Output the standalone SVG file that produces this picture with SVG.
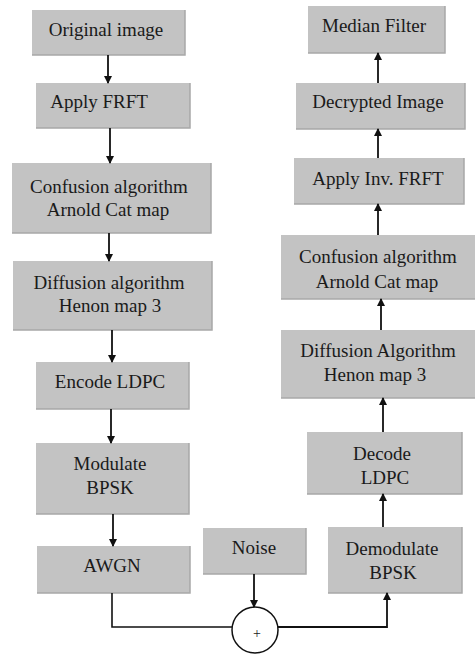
<svg xmlns="http://www.w3.org/2000/svg" width="475" height="655" viewBox="0 0 475 655" font-family="'Liberation Serif', 'DejaVu Serif', 'Times New Roman', serif">
<style>
.box{fill:#c3c3c3;stroke:none}
.sh{fill:none;stroke:#a8a8a8;stroke-width:1.5}
text{font-family:'Liberation Serif','DejaVu Serif','Times New Roman',serif;font-size:19px;fill:#1a1a1a;text-anchor:middle}
.ln{fill:none;stroke:#111;stroke-width:1.6}
.ar{fill:none;stroke:#111;stroke-width:1.8;marker-end:url(#ah)}
</style>
<defs>
<marker id="ah" markerWidth="8" markerHeight="8" refX="7" refY="4" orient="auto" markerUnits="userSpaceOnUse">
<path d="M0,0 L8,4 L0,8 Z" fill="#111"/>
</marker>
</defs>
<rect width="475" height="655" fill="#fff"/>
<g id="n-original"><rect class="box" x="32" y="10" width="153" height="45"/><path class="sh" d="M185,10 V55 H32"/><text x="106" y="36">Original image</text></g>
<g id="n-frft"><rect class="box" x="36" y="83" width="154" height="45"/><path class="sh" d="M190,83 V128 H36"/><text x="99" y="108">Apply FRFT</text></g>
<g id="n-confusion"><rect class="box" x="12" y="163" width="199" height="70"/><path class="sh" d="M211,163 V233 H12"/><text x="109" y="193">Confusion algorithm</text><text x="108" y="216">Arnold Cat map</text></g>
<g id="n-diffusion"><rect class="box" x="13" y="261" width="199" height="69"/><path class="sh" d="M212,261 V330 H13"/><text x="109" y="289">Diffusion algorithm</text><text x="110" y="312">Henon map 3</text></g>
<g id="n-encode"><rect class="box" x="36" y="362" width="153" height="47"/><path class="sh" d="M189,362 V409 H36"/><text x="110" y="388">Encode LDPC</text></g>
<g id="n-modulate"><rect class="box" x="36" y="443" width="153" height="71"/><path class="sh" d="M189,443 V514 H36"/><text x="110" y="470">Modulate</text><text x="110" y="494">BPSK</text></g>
<g id="n-awgn"><rect class="box" x="37" y="546" width="153" height="47"/><path class="sh" d="M190,546 V593 H37"/><text x="112" y="572">AWGN</text></g>
<g id="n-noise"><rect class="box" x="203" y="528" width="103" height="46"/><path class="sh" d="M306,528 V574 H203"/><text x="254" y="554">Noise</text></g>
<g id="n-demodulate"><rect class="box" x="328" y="527" width="134" height="66"/><path class="sh" d="M462,527 V593 H328"/><text x="392" y="555">Demodulate</text><text x="393" y="579">BPSK</text></g>
<g id="n-decode"><rect class="box" x="307" y="432" width="155" height="62"/><path class="sh" d="M462,432 V494 H307"/><text x="382" y="460">Decode</text><text x="385" y="484">LDPC</text></g>
<g id="n-rdiffusion"><rect class="box" x="281" y="330" width="194" height="68"/><path class="sh" d="M281,398 H475"/><text x="378" y="357">Diffusion Algorithm</text><text x="375" y="381">Henon map 3</text></g>
<g id="n-rconfusion"><rect class="box" x="281" y="235" width="194" height="64"/><path class="sh" d="M281,299 H475"/><text x="378" y="263">Confusion algorithm</text><text x="377" y="288">Arnold Cat map</text></g>
<g id="n-invfrft"><rect class="box" x="294" y="158" width="170" height="46"/><path class="sh" d="M464,158 V204 H294"/><text x="378" y="185">Apply Inv. FRFT</text></g>
<g id="n-decrypted"><rect class="box" x="296" y="83" width="169" height="46"/><path class="sh" d="M465,83 V129 H296"/><text x="378" y="108">Decrypted Image</text></g>
<g id="n-median"><rect class="box" x="308" y="6" width="137" height="47"/><path class="sh" d="M445,6 V53 H308"/><text x="374" y="32">Median Filter</text></g>
<g id="n-sum"><circle cx="255" cy="630" r="23" fill="#fff" stroke="#111" stroke-width="1.5"/><text x="257" y="638" style="font-size:14px">+</text></g>
<g id="connectors">
<path class="ar" d="M108,55 V83"/>
<path class="ar" d="M110,128 V163"/>
<path class="ar" d="M109,233 V261"/>
<path class="ar" d="M112,330 V362"/>
<path class="ar" d="M111,409 V443"/>
<path class="ar" d="M113,514 V546"/>
<path class="ar" d="M254,574 V607"/>
<path class="ln" d="M112,593 V627 H232"/>
<path class="ar" d="M278,627 H387 V593"/>
<path class="ar" d="M383,527 V494"/>
<path class="ar" d="M383,432 V398"/>
<path class="ar" d="M381,330 V299"/>
<path class="ar" d="M378,235 V204"/>
<path class="ar" d="M378,158 V129"/>
<path class="ar" d="M378,83 V53"/>
</g>
</svg>
